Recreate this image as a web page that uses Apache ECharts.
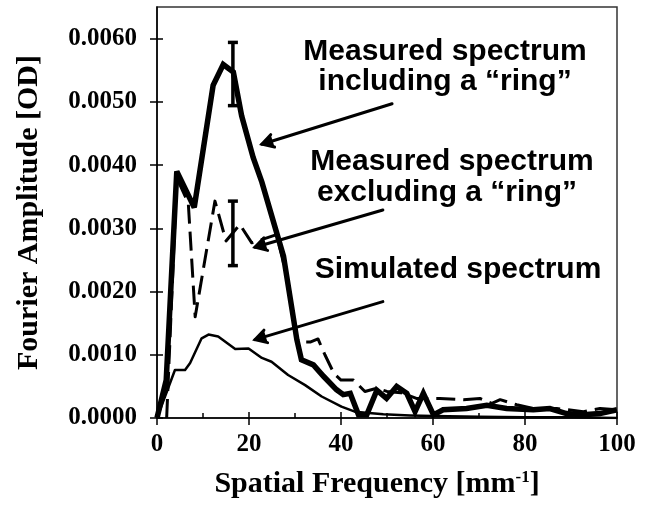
<!DOCTYPE html>
<html>
<head>
<meta charset="utf-8">
<script src="https://cdn.jsdelivr.net/npm/echarts@6/dist/echarts.min.js"></script>
<style>
html,body{margin:0;padding:0;background:#fff;}
#chart{width:653px;height:505px;}
</style>
</head>
<body>
<div id="chart"></div>
<script>
// ---- data ----
const xTicks = [0, 20, 40, 60, 80, 100];
const yTicks = [0, 0.001, 0.002, 0.003, 0.004, 0.005, 0.006];

const measuredIncludingRing = [
  [0,0],[2,0.0006],[4.3,0.0039],[8.1,0.00333],[12.2,0.00526],[14.4,0.00559],[16.6,0.00547],
  [18.4,0.00478],[20.9,0.00412],[22.8,0.00373],[27.5,0.00256],[30.4,0.00124],[31.4,0.00092],
  [34,0.00084],[36.2,0.00066],[39,0.00045],[40.5,0.00037],[42,0.00039],[43.8,0.00005],
  [45.6,0.00005],[47.8,0.00044],[49.9,0.00031],[52.1,0.0005],[54.3,0.00039],[56.1,0.0001],
  [57.9,0.00039],[60.1,0.00005],[62.2,0.00013],[67.3,0.00015],[71.7,0.0002],[76,0.00015],
  [81.8,0.00013],[85.4,0.00015],[89,0.00007],[92.6,0.00005],[96.3,0.00007],[100,0.00013]
];
const measuredExcludingRing = [
  [2.1,0],[4.3,0.0038],[6.8,0.0034],[8.3,0.0016],[12.6,0.00343],[15,0.0028],[18,0.00306],
  [20.6,0.00277],[26,0.0029],[28,0.0023],[30.5,0.0012],[33.3,0.0012],[35,0.00125],[36.5,0.001],
  [38.5,0.0007],[40,0.0006],[42.7,0.0006],[45.2,0.00042],[47.8,0.00047],[50,0.00042],
  [53,0.0004],[56.4,0.00031],[61.5,0.00031],[66.6,0.00029],[70.2,0.00031],[72.8,0.00023],
  [74.6,0.00029],[78.2,0.00021],[81.8,0.00015],[86.9,0.00015],[92.7,0.0001],[96.3,0.00015],[100,0.00013]
];
const simulated = [
  [0,0],[3.9,0.00076],[6.1,0.00076],[7.2,0.00087],[9.7,0.00126],[11.2,0.00132],[13.3,0.00129],
  [17,0.00109],[19.9,0.0011],[22.8,0.00095],[24.9,0.00089],[28.5,0.00068],[32.2,0.00052],
  [35.8,0.00034],[40.1,0.00018],[43,0.0001],[49.2,0.00006],[55,0.00004],[60,0.00003],
  [70,0.00002],[80,0.00001],[90,0.00001],[100,0]
];
// error bars: [x, low, high]
const errorBars = [
  [16.5, 0.00494, 0.00594],
  [16.5, 0.00241, 0.00343]
];
// annotation arrows: [fromX, fromY, toX, toY] in data units
const arrows = [
  [51.1, 0.00497, 22.8, 0.00433],
  [49.1, 0.00329, 21.3, 0.00270],
  [49.1, 0.00184, 21.3, 0.00124]
];
const labelLines = [
  'Measured spectrum', 'including a \u201cring\u201d',
  'Measured spectrum', 'excluding a \u201cring\u201d',
  'Simulated spectrum'
];

// ---- chart ----
const chart = echarts.init(document.getElementById('chart'));
const serif = 'Liberation Serif, Times New Roman, serif';
const sans = 'Liberation Sans, Arial, sans-serif';

const labelPos = [[445,52],[445,82],[452,162],[447,193],[458,270]];

chart.setOption({
  animation: false,
  backgroundColor: '#fff',
  grid: {left:157, top:7, right:36, bottom:87, show:true, borderColor:'#333', borderWidth:1.5, backgroundColor:'transparent'},
  xAxis: [
    {
      type:'value', min:0, max:100, interval:20, position:'bottom',
      axisLine:{show:true, onZero:false, lineStyle:{color:'#000', width:1.5}},
      axisTick:{show:true, inside:false, length:7, lineStyle:{color:'#000', width:1.5}},
      axisLabel:{show:true, margin:14, color:'#000', fontFamily:serif, fontWeight:'bold', fontSize:25},
      splitLine:{show:false},
      name:'Spatial Frequency [mm{sup|-1}]',
      nameLocation:'middle', nameGap:51,
      nameTextStyle:{color:'#000', fontFamily:serif, fontWeight:'bold', fontSize:30, padding:[0,20,0,0],
        rich:{sup:{fontFamily:serif, fontWeight:'bold', fontSize:17, verticalAlign:'top', lineHeight:17, color:'#000'}}}
    },
    {
      type:'value', min:0, max:100, interval:20, position:'bottom',
      axisLine:{show:false, onZero:false},
      axisTick:{show:true, inside:true, length:6, lineStyle:{color:'#000', width:1.5}},
      minorTick:{show:true, splitNumber:2, length:5, lineStyle:{color:'#000', width:1.5}},
      axisLabel:{show:false}, splitLine:{show:false}
    }
  ],
  yAxis: [
    {
      type:'value', min:0, max:0.0065, position:'left',
      axisLine:{show:true, onZero:false, lineStyle:{color:'#000', width:1.5}},
      axisTick:{show:true, inside:false, length:7, customValues:yTicks, lineStyle:{color:'#000', width:1.5}},
      axisLabel:{show:true, margin:20, customValues:yTicks, color:'#000', fontFamily:serif, fontWeight:'bold', fontSize:25,
        formatter:function(v){return v.toFixed(4);}},
      splitLine:{show:false},
      name:'Fourier Amplitude [OD]', nameLocation:'middle', nameGap:113,
      nameTextStyle:{color:'#000', fontFamily:serif, fontWeight:'bold', fontSize:30}
    },
    {
      type:'value', min:0, max:0.0065, position:'left',
      axisLine:{show:false, onZero:false},
      axisTick:{show:true, inside:true, length:6, customValues:yTicks, lineStyle:{color:'#000', width:1.5}},
      axisLabel:{show:false}, splitLine:{show:false}
    }
  ],
  series: [
    {
      name:'Simulated spectrum', type:'line', data:simulated, symbol:'none', silent:true,
      lineStyle:{color:'#000', width:2.5, join:'round'}
    },
    {
      name:'Measured spectrum excluding a ring', type:'line', data:measuredExcludingRing, symbol:'none', silent:true,
      lineStyle:{color:'#000', width:3, type:[19,8], join:'round'}
    },
    {
      name:'Measured spectrum including a ring', type:'line', data:measuredIncludingRing, symbol:'none', silent:true,
      lineStyle:{color:'#000', width:5.5, join:'miter', miterLimit:3}
    },
    {
      name:'error bars', type:'custom', data:errorBars, clip:false, silent:true,
      encode:{x:0, y:[1,2]},
      renderItem:function(params, api){
        const x = api.value(0), lo = api.value(1), hi = api.value(2);
        const pH = api.coord([x, hi]), pL = api.coord([x, lo]);
        const w = 5;
        const st = {stroke:'#000', lineWidth:3.5};
        return {type:'group', children:[
          {type:'line', shape:{x1:pH[0], y1:pH[1], x2:pL[0], y2:pL[1]}, style:st},
          {type:'line', shape:{x1:pH[0]-w, y1:pH[1], x2:pH[0]+w, y2:pH[1]}, style:st},
          {type:'line', shape:{x1:pL[0]-w, y1:pL[1], x2:pL[0]+w, y2:pL[1]}, style:st}
        ]};
      }
    },
    {
      name:'arrows', type:'custom', data:arrows, clip:false, silent:true,
      encode:{x:[0,2], y:[1,3]},
      renderItem:function(params, api){
        const p1 = api.coord([api.value(0), api.value(1)]);
        const p2 = api.coord([api.value(2), api.value(3)]);
        const ang = Math.atan2(p1[1]-p2[1], p1[0]-p2[0]);
        const L = 13, a = Math.PI/6;
        const st = {stroke:'#000', lineWidth:3, lineCap:'round', lineJoin:'miter'};
        return {type:'group', children:[
          {type:'line', shape:{x1:p1[0], y1:p1[1], x2:p2[0], y2:p2[1]}, style:st},
          {type:'polyline', shape:{points:[
            [p2[0]+L*Math.cos(ang+a), p2[1]+L*Math.sin(ang+a)],
            [p2[0], p2[1]],
            [p2[0]+L*Math.cos(ang-a), p2[1]+L*Math.sin(ang-a)]
          ]}, style:st}
        ]};
      }
    }
  ],
  graphic: labelLines.map(function(t, i){
    return {type:'text', x:labelPos[i][0], y:labelPos[i][1], silent:true,
      style:{text:t, fill:'#000', fontFamily:sans, fontWeight:'bold', fontSize:30, align:'center', verticalAlign:'middle'}};
  })
});
</script>
</body>
</html>
